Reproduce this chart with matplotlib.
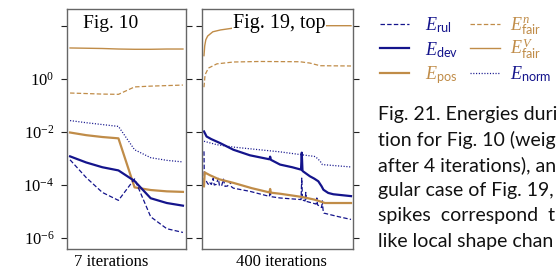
import matplotlib
matplotlib.use('Agg')
import matplotlib.pyplot as plt
from matplotlib.lines import Line2D
import numpy as np

plt.rcParams['mathtext.fontset'] = 'custom'
plt.rcParams['mathtext.rm'] = 'Liberation Serif'
plt.rcParams['mathtext.it'] = 'Liberation Serif:italic'
plt.rcParams['mathtext.bf'] = 'Liberation Serif:bold'
plt.rcParams['mathtext.sf'] = 'Lato'
plt.rcParams['lines.scale_dashes'] = False

BLUE = '#14148c'
GOLD = '#c08c48'

# ---------------- data (log10 of energies) ----------------
# Panel "Fig. 10": 7 iterations
it_a = [0, 1, 2, 3, 4, 5, 6, 7]
rul_a = [-3.05, -3.72, -4.28, -4.58, -3.77, -5.20, -5.65, -5.79]
dev_a = [-2.92, -3.15, -3.33, -3.45, -3.85, -4.50, -4.68, -4.78]
pos_a = [-2.02, -2.12, -2.19, -2.24, -4.09, -4.19, -4.24, -4.26]
fairn_a = [-0.53, -0.55, -0.57, -0.58, -0.30, -0.27, -0.25, -0.23]
fairv_a = [1.17, 1.16, 1.15, 1.13, 1.12, 1.12, 1.13, 1.13]
norm_a = [-1.57, -1.65, -1.72, -1.79, -2.67, -2.97, -3.07, -3.13]

# Panel "Fig. 19, top": 400 iterations
it_rul_b = [0, 1, 4, 7, 10, 14, 16, 20, 25, 28, 33, 39, 42, 48, 53, 57, 64, 71, 75, 80,
            125, 178, 180, 182, 207, 264, 266, 268, 275, 277, 279, 305, 307, 309, 316,
            320, 322, 324, 326, 361, 400]
rul_b = [-2.73, -3.90, -3.85, -3.87, -3.95, -3.99, -3.92, -3.98, -3.75, -4.00, -3.98,
         -3.75, -4.02, -4.03, -3.78, -4.05, -4.04, -3.87, -4.07, -4.12,
         -4.24, -4.43, -4.20, -4.44, -4.49, -4.55, -3.74, -4.57, -4.60, -4.28, -4.62,
         -4.72, -4.49, -4.75, -4.81, -4.85, -4.60, -4.95, -5.06, -5.18, -5.30]
it_dev_b = [0, 7, 20, 44, 80, 125, 178, 180, 182, 207, 240, 264, 266, 268, 288, 300,
            311, 320, 325, 338, 352, 400]
dev_b = [-1.98, -2.17, -2.27, -2.42, -2.67, -2.88, -3.03, -2.93, -3.05, -3.23, -3.33,
         -3.42, -2.78, -3.47, -3.67, -3.76, -3.86, -4.05, -4.18, -4.30, -4.35, -4.42]
it_pos_b = [0, 2, 5, 16, 40, 80, 130, 178, 180, 182, 207, 266, 300, 316, 329, 400]
pos_b = [-4.05, -3.52, -3.55, -3.63, -3.78, -3.92, -4.12, -4.28, -4.15, -4.29, -4.33,
         -4.45, -4.55, -4.62, -4.68, -4.68]
it_fairn_b = [0, 3, 12, 35, 80, 152, 261, 288, 316, 400]
fairn_b = [-0.31, 0.16, 0.41, 0.57, 0.64, 0.66, 0.65, 0.60, 0.50, 0.49]
it_fairv_b = [0, 2, 5, 10, 24, 45, 75, 120, 200, 300, 400]
fairv_b = [0.88, 1.25, 1.48, 1.62, 1.78, 1.85, 1.91, 1.96, 2.00, 2.01, 2.01]
it_norm_b = [0, 35, 80, 207, 266, 300, 307, 316, 322, 400]
norm_b = [-2.35, -2.48, -2.57, -2.75, -2.86, -2.92, -2.98, -3.10, -3.23, -3.32]

ytick_exp = [2, 0, -2, -4, -6]
ytick_labels = ['', r'$10^{0}$', r'$10^{-2}$', r'$10^{-4}$', r'$10^{-6}$']

styles = {
    'rul': dict(color=BLUE, lw=0.9, dashes=(3.2, 1.6)),
    'dev': dict(color=BLUE, lw=1.6, ls='-'),
    'pos': dict(color=GOLD, lw=1.6, ls='-'),
    'fairn': dict(color=GOLD, lw=0.9, dashes=(3.2, 1.6)),
    'fairv': dict(color=GOLD, lw=1.0, ls='-'),
    'norm': dict(color=BLUE, lw=0.9, dashes=(0.8, 1.2)),
}
labels = {
    'rul': r'$E_{\mathsf{rul}}$', 'dev': r'$E_{\mathsf{dev}}$', 'pos': r'$E_{\mathsf{pos}}$',
    'fairn': r'$E^{n}_{\mathsf{fair}}$', 'fairv': r'$E^{V}_{\mathsf{fair}}$',
    'norm': r'$E_{\mathsf{norm}}$',
}

W, H = 557, 270
fig = plt.figure(figsize=(W / 100, H / 100), dpi=100)

def px_axes(x0, x1, ytop, ybot):
    return fig.add_axes([x0 / W, 1 - ybot / H, (x1 - x0) / W, (ybot - ytop) / H])

ax1 = px_axes(67, 186, 9, 249)
ax2 = px_axes(202, 353, 9, 249)

series_a = [('fairv', it_a, fairv_a), ('fairn', it_a, fairn_a), ('norm', it_a, norm_a),
            ('pos', it_a, pos_a), ('rul', it_a, rul_a), ('dev', it_a, dev_a)]
series_b = [('fairv', it_fairv_b, fairv_b), ('fairn', it_fairn_b, fairn_b),
            ('norm', it_norm_b, norm_b), ('rul', it_rul_b, rul_b),
            ('pos', it_pos_b, pos_b), ('dev', it_dev_b, dev_b)]

for ax, series in ((ax1, series_a), (ax2, series_b)):
    for key, xs, ys in series:
        ax.plot(xs, 10.0 ** np.array(ys), **styles[key])
    ax.set_yscale('log')
    ax.set_ylim(10 ** -6.415, 10 ** 2.64)
    ax.set_yticks([10.0 ** e for e in ytick_exp])
    ax.minorticks_off()
    ax.set_xticks([])
    ax.tick_params(axis='y', which='both', direction='out', length=4.5, width=0.8,
                   color='#222222', left=True, right=True, labelsize=12, pad=4.5)
    for s in ax.spines.values():
        s.set_color('#666666')
        s.set_linewidth(1.0)

ax1.set_xlim(-0.19, 7.19)
ax2.set_xlim(-5.4, 405.4)
ax1.set_yticklabels(ytick_labels)
ax2.set_yticklabels([])

ax1.text(0.134, 0.921, 'Fig. 10', transform=ax1.transAxes, fontsize=14,
         family='Liberation Serif', va='baseline', ha='left')
ax2.text(0.205, 0.921, 'Fig. 19, top', transform=ax2.transAxes, fontsize=14.5,
         family='Liberation Serif', va='baseline', ha='left', zorder=10,
         bbox=dict(facecolor='white', edgecolor='none', pad=0.5))

fig.text(111 / W, 1 - 262 / H, '7 iterations', fontsize=12, family='Liberation Serif',
         ha='center', va='center')
fig.text(281 / W, 1 - 262 / H, '400 iterations', fontsize=12, family='Liberation Serif',
         ha='center', va='center')

# legend (drawn by hand so rows line up)
legend_layout = [('rul', 0, 0), ('dev', 0, 1), ('pos', 0, 2),
                 ('fairn', 1, 0), ('fairv', 1, 1), ('norm', 1, 2)]
col_handle = [(380, 409), (470, 500)]
col_text = [425, 510]
row_y = [24, 48.3, 72.7]
for key, c, r in legend_layout:
    st = styles[key]
    x0, x1 = col_handle[c]
    fig.add_artist(Line2D([x0 / W, x1 / W], [1 - row_y[r] / H] * 2,
                          transform=fig.transFigure, **st))
    fig.text(col_text[c] / W, 1 - (row_y[r] + 6.5) / H, labels[key], fontsize=13,
             color=st['color'], ha='left', va='baseline')

caption = ['Fig. 21. Energies duri',
           'tion for Fig. 10 (weig',
           'after 4 iterations), an',
           'gular case of Fig. 19,',
           'spikes  correspond  t',
           'like local shape chan']
for i, line in enumerate(caption):
    fig.text(377.7 / W, 1 - (114 + 25.5 * i) / H, line, fontsize=14, family='Lato',
             ha='left', va='center', color='#111111')

fig.savefig('out.png', dpi=100)
